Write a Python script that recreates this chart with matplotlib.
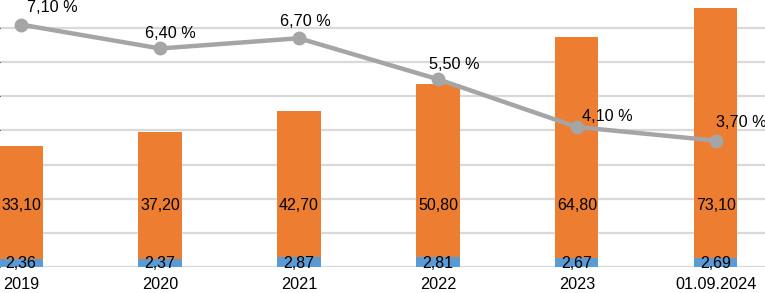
import matplotlib.pyplot as plt
import numpy as np

plt.rcParams['font.family'] = ['Liberation Sans', 'DejaVu Sans']

labels = ["2019", "2020", "2021", "2022", "2023", "01.09.2024"]
blue_vals = [2.36, 2.37, 2.87, 2.81, 2.67, 2.69]
orange_vals = [33.10, 37.20, 42.70, 50.80, 64.80, 73.10]
pct_vals = [7.10, 6.40, 6.70, 5.50, 4.10, 3.70]

# label offsets for the percent labels (pixels)
pct_offsets = [(31, 17), (10, 15), (6, 17), (16, 15), (30, 11), (25, 18)]

def fmt(v):
    return f"{v:.2f}".replace(".", ",")

fig = plt.figure(figsize=(7.65, 2.93), dpi=100)
ax = fig.add_axes([0, 26 / 293, 1, 267 / 293])
x = np.arange(len(labels))
w = 0.31

ax.bar(x, blue_vals, w, color="#5B9BD5", zorder=2)
ax.bar(x, orange_vals, w, bottom=blue_vals, color="#ED7D31", zorder=2)

ymax = 78.2
ax.set_ylim(0, ymax)
ax.set_xlim(-0.151, 5.353)
ax.set_yticks(np.arange(0, 80, 10))
ax.yaxis.grid(True, color="#D9D9D9", linewidth=1.6, zorder=0)
ax.set_axisbelow(True)
ax.tick_params(axis="y", left=False, labelleft=False)
ax.set_xticks(x, labels)
ax.tick_params(axis="x", length=0, pad=7.5, labelsize=11.7)
for s in ax.spines.values():
    s.set_visible(False)

for i in range(len(x)):
    ax.text(x[i], 1.0, fmt(blue_vals[i]), ha="center", va="center", fontsize=11.5, zorder=3)
    ax.text(x[i], 18, fmt(orange_vals[i]), ha="center", va="center", fontsize=11.5, zorder=3)

ax2 = ax.twinx()
ax2.set_ylim(0, ymax / 10)
ax2.plot(x, pct_vals, color="#A5A5A5", linewidth=3.2, marker="o", markersize=9, zorder=4)
ax2.axis("off")
for i in range(len(x)):
    ax2.annotate(fmt(pct_vals[i]) + " %", (x[i], pct_vals[i]), xytext=pct_offsets[i],
                 textcoords="offset pixels", ha="center", va="center", fontsize=11.7,
                 annotation_clip=False, zorder=5)

fig.savefig("out.png", dpi=100)
